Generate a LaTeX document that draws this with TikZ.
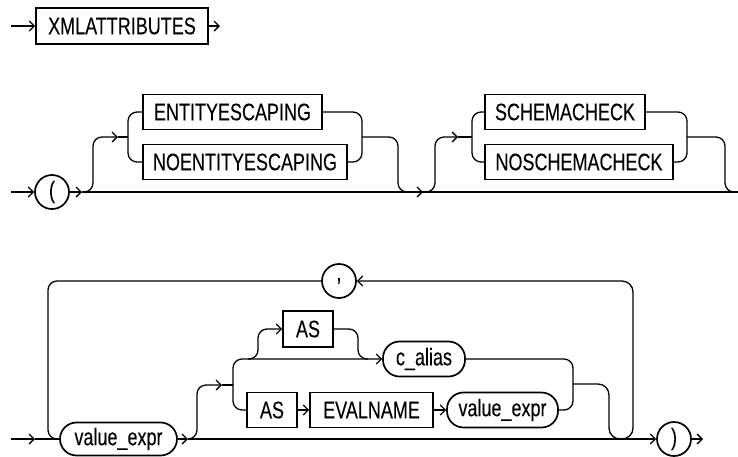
\documentclass[tikz,border=0pt]{standalone}
\usepackage{fontspec}
\setmainfont[FakeStretch=0.75,FakeBold=0.1]{Liberation Sans}
\usetikzlibrary{arrows.meta}
\begin{document}
\begin{tikzpicture}[x=1pt,y=-1pt, line width=1.3pt,
  arr/.style={-{Straight Barb[length=5pt,width=10pt]}},
  kw/.style={draw, line width=1.7pt, minimum height=35pt, inner sep=0pt, font=\fontsize{24}{25}\selectfont},
  refn/.style={kw, rounded corners=16.5pt},
  sym/.style={draw, circle, line width=1.7pt, minimum size=34pt, inner sep=0pt, font=\fontsize{24}{25}\selectfont},
  rc/.style={rounded corners=#1}, rc/.default=9pt]
\useasboundingbox (0,0) rectangle (738,456);

% Row 1
\node[kw, minimum width=172pt, minimum height=36pt] (xml) at (122,26) {XMLATTRIBUTES};
\coordinate (s1) at (11,26);
\coordinate (e1) at (220,26);
\draw[arr] (s1) -- (xml);
\draw[arr] (xml) -- (e1);

% Row 2
\node[sym] (lp) at (52,192) {(};
\node[kw, minimum width=179pt] (ent) at (232.5,112) {ENTITYESCAPING};
\node[kw, minimum width=204pt] (noent) at (245,162) {NOENTITYESCAPING};
\node[kw, minimum width=160pt] (sch) at (565,112) {SCHEMACHECK};
\node[kw, minimum width=188pt] (nosch) at (579,162) {NOSCHEMACHECK};
\coordinate (s2) at (11,192);
\coordinate (a2) at (82,192);
\coordinate (e2) at (738,192);
\coordinate (b1) at (128,137);
\coordinate (b2) at (362,137);
\coordinate (b3) at (472,137);
\coordinate (b4) at (687,137);
\draw[arr] (s2) -- (lp);
\draw[arr] (lp) -- (a2);
\draw (a2) -- (e2);
\draw[rc,arr] (a2) -| (93,137) -- (118,137);
\draw (118,137) -- (b1);
\draw[rc] (ent.west) -| (b1) |- (noent.west);
\draw[rc] (ent.east) -| (b2) |- (noent.east);
\draw[rc] (b2) -| (398,192) -- (410,192);
\draw[arr] (410,192) -- (423,192);
\draw[rc,arr] (425,192) -| (435,137) -- (458,137);
\draw (458,137) -- (b3);
\draw[rc] (sch.west) -| (b3) |- (nosch.west);
\draw[rc] (sch.east) -| (b4) |- (nosch.east);
\draw[rc] (b4) -| (725,192) -- (e2);

% Row 3
\node[refn, minimum width=117pt, minimum height=33pt] (v1) at (118.5,439) {value\_expr};
\node[sym] (comma) at (339,281) {,};
\node[kw, minimum width=50pt, minimum height=36pt] (as1) at (308,329) {AS};
\node[refn, minimum width=82pt] (ca) at (424,359) {c\_alias};
\node[kw, minimum width=50pt] (as2) at (272,410) {AS};
\node[kw, minimum width=123pt] (ev) at (371.5,410) {EVALNAME};
\node[refn, minimum width=111pt] (v2) at (502.5,410) {value\_expr};
\node[sym] (rp) at (674,439) {)};
\coordinate (s3) at (11,439);
\coordinate (t3) at (35,439);
\coordinate (m3) at (188,439);
\coordinate (e3) at (703,439);
\coordinate (c1) at (233,385);
\coordinate (c2) at (573,384);
\draw[arr] (s3) -- (t3);
\draw (t3) -- (v1);
\draw[rc] (comma.west) -| (48,439) -- (v1.west);
\draw[arr] (v1) -- (m3);
\draw[arr] (m3) -- (rp);
\draw[rc,arr] (m3) -| (197,385) -- (222,385);
\draw (222,385) -- (c1);
\draw[rc,arr] (c1) |- (ca.west);
\draw[rc] (c1) |- (as2.west);
\draw[rc,arr] (248,359) -| (258,329) -- (as1.west);
\draw[rc] (as1.east) -| (358,359) -- (368,359);
\draw[arr] (as2) -- (ev);
\draw[arr] (ev) -- (v2);
\draw[rc] (ca.east) -| (c2) |- (v2.east);
\draw[rc=11pt] (c2) -| (609,439) -- (621,439);
\draw[rc=11pt,arr] (621,439) -| (633,281) -- (comma.east);
\draw[arr] (rp) -- (e3);
\end{tikzpicture}
\end{document}
